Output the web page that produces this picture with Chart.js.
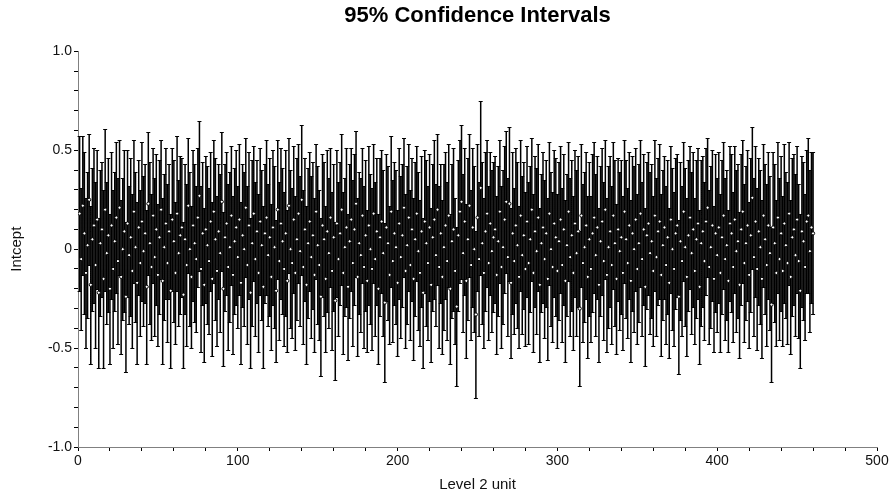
<!DOCTYPE html>
<html>
<head>
<meta charset="utf-8">
<script src="https://cdn.jsdelivr.net/npm/chart.js@4/dist/chart.umd.min.js"></script>
<style>
  html, body { margin: 0; padding: 0; background: #fff; }
  #wrap { width: 891px; height: 494px; }
</style>
</head>
<body>
<div id="wrap"><canvas id="chart" width="891" height="494"></canvas></div>
<script>
// point estimates for each level 2 unit (1..460)
const estimates = [
  0.18,-0.05,0.22,0.08,-0.12,0.02,0.25,-0.18,0.05,0.12,-0.08,0.15,-0.22,0.03,0.10,-0.15,0.20,-0.02,0.07,-0.20,
  0.12,-0.10,0.04,0.16,-0.06,0.21,-0.14,0.00,0.09,-0.24,0.13,-0.03,0.06,-0.11,0.19,0.01,-0.17,0.11,-0.07,0.14,
  -0.01,0.08,-0.19,0.23,0.03,-0.09,0.17,-0.04,0.10,-0.13,0.06,0.20,-0.16,0.01,0.13,-0.07,0.09,-0.21,0.15,0.04,
  -0.12,0.18,-0.02,0.07,0.11,-0.23,0.05,-0.08,0.22,0.00,-0.14,0.12,0.03,-0.05,0.16,0.27,-0.10,0.08,-0.18,0.10,
  0.02,-0.06,0.14,-0.15,0.19,0.05,-0.11,0.09,-0.02,0.24,-0.20,0.06,0.13,-0.09,0.01,0.17,-0.13,0.04,0.11,-0.04,
  0.15,-0.17,0.07,0.00,0.21,-0.08,0.12,-0.22,0.03,0.18,-0.05,0.09,-0.12,0.14,0.02,-0.19,0.08,0.16,-0.03,0.06,
  -0.14,0.11,0.01,-0.21,0.20,-0.06,0.13,0.04,-0.10,0.08,-0.16,0.22,0.00,-0.07,0.15,-0.12,0.05,0.18,-0.01,0.25,
  -0.09,0.10,-0.18,0.03,0.14,-0.04,0.07,-0.13,0.19,0.02,-0.08,-0.24,0.12,0.05,-0.15,0.09,-0.02,0.16,-0.11,0.06,
  -0.26,0.13,-0.05,0.08,0.20,-0.12,0.01,0.11,-0.19,0.04,0.15,-0.07,0.10,0.23,-0.14,0.03,-0.03,0.17,-0.09,0.07,
  -0.16,0.12,0.00,-0.10,0.18,-0.05,0.09,-0.20,0.06,0.14,-0.02,-0.27,0.11,0.03,-0.13,0.19,-0.06,0.08,0.01,-0.17,
  0.13,-0.04,0.07,0.21,-0.11,0.02,0.16,-0.08,0.10,-0.15,0.05,0.18,-0.01,-0.12,0.09,-0.22,0.14,0.03,-0.07,0.11,
  -0.18,0.06,0.15,-0.03,0.20,-0.09,0.08,-0.14,0.01,0.12,-0.06,0.17,-0.20,0.04,0.10,-0.11,-0.29,0.07,0.19,0.24,
  -0.02,0.14,-0.16,0.05,0.22,-0.08,0.11,0.00,-0.33,0.16,-0.05,0.31,0.03,-0.12,0.09,0.18,-0.07,0.13,-0.01,0.06,
  0.10,-0.13,0.04,0.19,-0.09,0.01,0.15,0.24,-0.04,0.23,-0.17,0.08,-0.06,0.12,0.02,-0.14,0.17,-0.03,0.07,-0.10,
  0.14,-0.07,0.05,0.20,-0.12,0.09,-0.01,0.16,-0.18,0.03,0.11,-0.05,0.08,-0.15,0.18,0.00,-0.09,0.13,0.06,-0.11,
  0.04,0.15,-0.08,0.10,-0.16,0.02,0.19,-0.04,0.07,-0.12,0.13,-0.02,0.09,-0.30,0.17,-0.07,0.01,0.12,-0.14,0.05,
  -0.10,0.08,0.16,-0.03,0.11,-0.18,0.04,0.14,-0.06,0.20,-0.13,0.01,0.09,-0.08,0.17,0.03,-0.15,0.10,-0.01,0.06,
  -0.12,0.19,0.05,-0.07,0.12,-0.16,0.08,0.00,0.15,-0.10,0.03,0.18,-0.05,0.10,-0.19,0.07,0.13,-0.02,0.04,-0.11,
  0.17,-0.04,0.09,0.14,-0.13,0.02,0.11,-0.08,0.06,-0.17,0.15,0.00,-0.10,0.08,0.12,-0.24,0.04,-0.06,0.19,0.01,
  -0.14,0.07,0.16,-0.02,0.10,-0.11,0.05,0.13,-0.19,0.03,0.09,-0.06,0.14,0.21,-0.09,0.01,0.12,-0.15,0.08,-0.03,
  0.11,-0.12,0.06,0.17,-0.05,0.02,-0.16,0.13,0.08,-0.09,0.15,-0.01,0.04,-0.18,0.10,0.19,-0.07,0.03,0.12,-0.13,
  0.07,0.26,-0.04,0.14,-0.10,0.09,0.01,-0.15,0.17,0.05,-0.08,0.12,-0.02,-0.28,0.11,0.03,-0.12,0.16,-0.05,0.08,
  -0.11,0.13,0.02,-0.07,0.18,-0.14,0.06,0.10,-0.03,0.15,-0.06,-0.21,0.09,0.04,-0.09,0.14,0.17,-0.01,0.11,0.08
];

// half width of the 95% interval for each unit
const halfWidths = [
  0.39,0.36,0.35,0.41,0.38,0.37,0.33,0.40,0.36,0.39,0.42,0.35,0.38,0.37,0.34,0.45,0.41,0.36,0.39,0.38,
  0.37,0.40,0.35,0.38,0.42,0.34,0.39,0.36,0.41,0.38,0.37,0.35,0.40,0.39,0.36,0.38,0.41,0.34,0.37,0.40,
  0.38,0.35,0.39,0.36,0.41,0.37,0.34,0.40,0.38,0.36,0.39,0.35,0.42,0.37,0.38,0.40,0.34,0.39,0.36,0.41,
  0.36,0.39,0.37,0.40,0.35,0.37,0.38,0.41,0.34,0.39,0.36,0.38,0.40,0.37,0.35,0.38,0.42,0.36,0.39,0.37,
  0.40,0.37,0.35,0.39,0.36,0.41,0.38,0.34,0.40,0.35,0.39,0.37,0.36,0.42,0.38,0.35,0.40,0.37,0.39,0.36,
  0.38,0.41,0.36,0.39,0.35,0.40,0.37,0.38,0.42,0.34,0.39,0.36,0.40,0.37,0.38,0.41,0.35,0.39,0.36,0.40,
  0.37,0.39,0.41,0.36,0.35,0.40,0.38,0.37,0.39,0.42,0.36,0.34,0.40,0.38,0.37,0.39,0.41,0.35,0.38,0.38,
  0.39,0.36,0.40,0.38,0.35,0.41,0.37,0.39,0.34,0.40,0.38,0.40,0.36,0.39,0.37,0.41,0.38,0.35,0.40,0.37,
  0.40,0.37,0.39,0.36,0.38,0.41,0.35,0.40,0.37,0.39,0.36,0.42,0.38,0.37,0.40,0.36,0.39,0.34,0.41,0.38,
  0.36,0.40,0.38,0.41,0.35,0.39,0.37,0.38,0.40,0.36,0.42,0.40,0.37,0.39,0.35,0.38,0.41,0.36,0.39,0.37,
  0.38,0.41,0.36,0.35,0.39,0.40,0.37,0.38,0.36,0.41,0.39,0.34,0.40,0.37,0.38,0.38,0.36,0.42,0.39,0.37,
  0.39,0.37,0.40,0.36,0.38,0.41,0.35,0.39,0.42,0.37,0.40,0.36,0.38,0.39,0.41,0.37,0.40,0.38,0.36,0.39,
  0.40,0.37,0.39,0.41,0.36,0.38,0.40,0.42,0.42,0.37,0.39,0.44,0.41,0.38,0.40,0.37,0.39,0.36,0.41,0.38,
  0.37,0.40,0.38,0.36,0.41,0.39,0.37,0.36,0.40,0.39,0.38,0.41,0.37,0.39,0.42,0.36,0.38,0.40,0.37,0.39,
  0.38,0.41,0.37,0.36,0.40,0.38,0.42,0.37,0.39,0.35,0.38,0.40,0.37,0.41,0.36,0.39,0.38,0.37,0.40,0.39,
  0.40,0.37,0.39,0.38,0.41,0.36,0.35,0.40,0.38,0.39,0.37,0.42,0.38,0.39,0.36,0.40,0.38,0.37,0.41,0.39,
  0.37,0.40,0.38,0.41,0.36,0.39,0.38,0.37,0.40,0.35,0.39,0.41,0.38,0.40,0.37,0.42,0.38,0.36,0.40,0.39,
  0.39,0.36,0.40,0.38,0.37,0.41,0.39,0.42,0.36,0.38,0.40,0.37,0.39,0.38,0.40,0.37,0.36,0.41,0.39,0.38,
  0.38,0.40,0.37,0.39,0.41,0.38,0.36,0.40,0.39,0.38,0.37,0.41,0.39,0.38,0.36,0.39,0.40,0.38,0.35,0.40,
  0.40,0.38,0.36,0.41,0.39,0.37,0.40,0.38,0.39,0.42,0.38,0.40,0.37,0.35,0.39,0.41,0.38,0.37,0.40,0.39,
  0.38,0.40,0.39,0.37,0.41,0.38,0.36,0.39,0.40,0.38,0.37,0.41,0.39,0.37,0.38,0.36,0.40,0.39,0.38,0.37,
  0.39,0.36,0.40,0.38,0.41,0.37,0.39,0.40,0.36,0.38,0.41,0.37,0.39,0.39,0.38,0.40,0.37,0.38,0.41,0.39,
  0.38,0.40,0.37,0.41,0.36,0.39,0.40,0.38,0.41,0.37,0.39,0.39,0.38,0.40,0.37,0.36,0.39,0.41,0.38,0.41
];

const units = estimates.map((_, i) => i + 1);
const yTickLabels = { "10": "1.0", "5": "0.5", "0": "0", "-5": "-0.5", "-10": "-1.0" };
const xTickLabels = [0, 100, 200, 300, 400, 500];

const fontFamily = "'Liberation Sans', Arial, sans-serif";

// vertical interval lines with small caps, drawn under the point markers
const errorBars = {
  id: "errorBars",
  beforeDatasetsDraw(chart) {
    const ctx = chart.ctx;
    const xs = chart.scales.x;
    const ys = chart.scales.y;
    ctx.save();
    ctx.strokeStyle = "#000";
    ctx.lineWidth = 1.5;
    ctx.beginPath();
    for (let i = 0; i < units.length; i++) {
      const x = xs.getPixelForValue(units[i]);
      const top = Math.round(ys.getPixelForValue(estimates[i] + halfWidths[i])) + 0.5;
      const bot = Math.round(ys.getPixelForValue(estimates[i] - halfWidths[i])) + 0.5;
      ctx.moveTo(x, top);
      ctx.lineTo(x, bot);
    }
    ctx.stroke();
    // caps
    ctx.lineWidth = 1;
    ctx.beginPath();
    for (let i = 0; i < units.length; i++) {
      const x = xs.getPixelForValue(units[i]);
      const top = Math.round(ys.getPixelForValue(estimates[i] + halfWidths[i])) + 0.5;
      const bot = Math.round(ys.getPixelForValue(estimates[i] - halfWidths[i])) + 0.5;
      ctx.moveTo(x - 2, top);
      ctx.lineTo(x + 2, top);
      ctx.moveTo(x - 2, bot);
      ctx.lineTo(x + 2, bot);
    }
    ctx.stroke();
    ctx.restore();
  },
};

const ctx = document.getElementById("chart").getContext("2d");
new Chart(ctx, {
  type: "scatter",
  data: {
    datasets: [
      {
        label: "Intcept",
        data: units.map((u, i) => ({ x: u, y: estimates[i] })),
        pointRadius: 1.6,
        pointBorderWidth: 1,
        pointBackgroundColor: "#fff",
        pointBorderColor: "#000",
        showLine: false,
      },
    ],
  },
  options: {
    responsive: false,
    animation: false,
    events: [],
    layout: { padding: { left: 0, right: 14, top: 0, bottom: 0 } },
    plugins: {
      legend: { display: false },
      tooltip: { enabled: false },
      title: {
        display: true,
        text: "95% Confidence Intervals",
        fullSize: false,
        color: "#000",
        font: { family: fontFamily, size: 22, weight: "bold" },
        padding: { top: 3, bottom: 22 },
      },
    },
    scales: {
      x: {
        type: "linear",
        min: 0,
        max: 500,
        afterFit: (scale) => { scale.height = 47; },
        border: { display: true, color: "#808080", width: 1 },
        grid: { drawOnChartArea: false, drawTicks: true, tickLength: 4, tickColor: "#000" },
        ticks: {
          stepSize: 20,
          autoSkip: false,
          maxRotation: 0,
          padding: 2,
          color: "#111",
          font: { family: fontFamily, size: 14 },
          callback: (v) => (xTickLabels.includes(v) ? String(v) : ""),
        },
        title: {
          display: true,
          text: "Level 2 unit",
          color: "#111",
          font: { family: fontFamily, size: 15 },
          padding: { top: 0, bottom: 0 },
        },
      },
      y: {
        min: -1,
        max: 1,
        afterFit: (scale) => { scale.width = 78; },
        border: { display: true, color: "#808080", width: 1 },
        grid: { drawOnChartArea: false, drawTicks: true, tickLength: 4, tickColor: "#000" },
        ticks: {
          stepSize: 0.1,
          autoSkip: false,
          padding: 2,
          color: "#111",
          font: { family: fontFamily, size: 14 },
          callback: (v) => yTickLabels[String(Math.round(v * 10))] || "",
        },
        title: {
          display: true,
          text: "Intcept",
          color: "#111",
          font: { family: fontFamily, size: 15 },
          padding: { top: 8, bottom: 0 },
        },
      },
    },
  },
  plugins: [errorBars],
});
</script>
</body>
</html>
